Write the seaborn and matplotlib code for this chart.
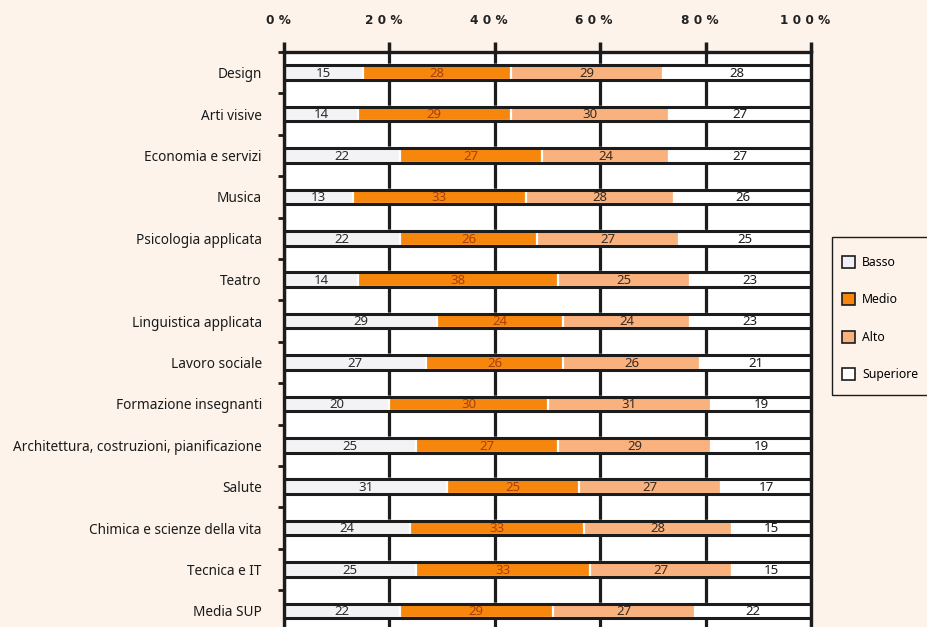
import seaborn as sns
import pandas as pd
import matplotlib.pyplot as plt
import matplotlib.transforms as mtransforms
import numpy as np
from matplotlib.patches import Patch, Rectangle

categories = ["Design", "Arti visive", "Economia e servizi", "Musica",
              "Psicologia applicata", "Teatro", "Linguistica applicata",
              "Lavoro sociale", "Formazione insegnanti",
              "Architettura, costruzioni, pianificazione", "Salute",
              "Chimica e scienze della vita", "Tecnica e IT", "Media SUP"]
basso = [15, 14, 22, 13, 22, 14, 29, 27, 20, 25, 31, 24, 25, 22]
medio = [28, 29, 27, 33, 26, 38, 24, 26, 30, 27, 25, 33, 33, 29]
alto = [29, 30, 24, 28, 27, 25, 24, 26, 31, 29, 27, 28, 27, 27]
superiore = [28, 27, 27, 26, 25, 23, 23, 21, 19, 19, 17, 15, 15, 22]
series = ["Basso", "Medio", "Alto", "Superiore"]
tick_labels = ["0 %", "2 0 %", "4 0 %", "6 0 %", "8 0 %", "1 0 0 %"]

colors = {"Basso": "#f3f2f5", "Medio": "#f7870c", "Alto": "#f9b27e", "Superiore": "#ffffff"}
text_colors = {"Basso": "#2a2a2a", "Medio": "#a8400c", "Alto": "#3a2a20", "Superiore": "#1a1a1a"}
bg = "#fdf3ea"
ink = "#1c1c1c"

plt.rcParams['font.family'] = ['Noto Sans', 'DejaVu Sans']

df = pd.DataFrame({"Categoria": categories, "Basso": basso, "Medio": medio,
                   "Alto": alto, "Superiore": superiore})
cum = df[series].cumsum(axis=1)

W, H = 928, 627
fig = plt.figure(figsize=(W/100, H/100), dpi=100, facecolor=bg)
ax = fig.add_axes([284/W, 0.0, (811-284)/W, 1 - 52/H])
ax.set_facecolor("white")

bar_h = 0.35
# stacked bars: draw cumulative totals from the longest to the shortest
for s in reversed(series):
    sns.barplot(ax=ax, x=cum[s], y=df["Categoria"], orient="h", color=colors[s],
                edgecolor="white", linewidth=1.6, width=bar_h, saturation=1, zorder=2)
# black outline around each bar row
sns.barplot(ax=ax, x=[100]*len(categories), y=df["Categoria"], orient="h",
            fill=False, edgecolor=ink, linewidth=2.2, width=bar_h, zorder=3)

for i in range(len(categories)):
    for s in series:
        v = df.loc[i, s]
        c = cum.loc[i, s] - v / 2
        ax.text(c, i + 0.02, str(v), ha="center", va="center", fontsize=9.5,
                color=text_colors[s], zorder=4)

ax.set_xlim(0, 100)
ax.set_ylim(13.39, -0.5)
ax.xaxis.tick_top()
ax.set_xticks(np.arange(0, 101, 20))
ax.set_xticklabels(tick_labels, fontsize=8.7, fontweight="bold", color="#222222",
                   family="DejaVu Sans")
ax.tick_params(axis="x", length=7, width=2.5, color=ink, pad=11)
shift = mtransforms.ScaledTranslation(-6/100, 0, fig.dpi_scale_trans)
for lab in ax.get_xticklabels():
    lab.set_transform(lab.get_transform() + shift)
ax.grid(axis="x", color=ink, linewidth=2.3)
ax.set_axisbelow(True)

ax.set_yticks(np.arange(-0.5, 13.0, 1.0))
ax.set_yticklabels([])
ax.set_yticks(np.arange(len(categories)), minor=True)
ax.set_yticklabels(categories, minor=True, fontsize=9.8, color="#1a1a1a")
ax.tick_params(axis="y", which="major", length=4, width=2, color=ink)
ax.tick_params(axis="y", which="minor", length=0, pad=16)
ax.set_xlabel("")
ax.set_ylabel("")

for side in ["left", "right", "top"]:
    ax.spines[side].set_linewidth(2.4)
    ax.spines[side].set_color(ink)
ax.spines["bottom"].set_visible(False)

# legend box (runs off the right edge, as in the source)
fig.patches.append(Rectangle((832/W, 1 - 395/H), 120/W, 158/H, transform=fig.transFigure,
                             facecolor=bg, edgecolor=ink, linewidth=1.0, zorder=5))
handles = [Patch(facecolor=colors[s] if s != "Basso" else "#eef0f6", edgecolor=ink, linewidth=1.2)
           for s in series]
leg = fig.legend(handles, series, loc="upper left",
                 bbox_to_anchor=(842/W, 1 - 256/H), borderaxespad=0, borderpad=0,
                 fontsize=8.8, handlelength=1.1, handleheight=1.1,
                 labelspacing=2.0, handletextpad=0.55, frameon=False)
leg.set_zorder(6)

fig.savefig("out.png", dpi=100, facecolor=bg)
